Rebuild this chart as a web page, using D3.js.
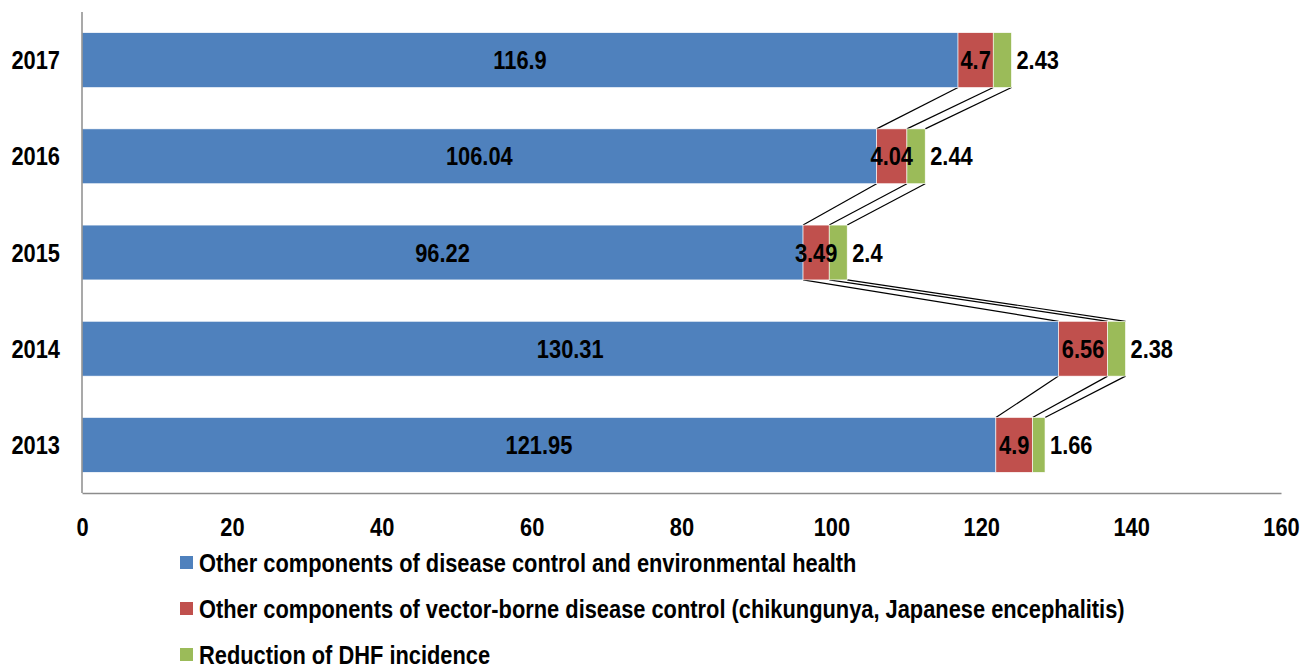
<!DOCTYPE html>
<html>
<head>
<meta charset="utf-8">
<script src="https://cdn.jsdelivr.net/npm/d3@7"></script>
<style>
  html, body { margin: 0; padding: 0; background: #fff; }
  svg text { font-family: "Liberation Sans Narrow", "Arial Narrow", "Liberation Sans", sans-serif; font-weight: bold; fill: #000; }
</style>
</head>
<body>
<svg id="chart" width="1302" height="666"></svg>
<script>
// Budget by year (stacked horizontally)
const years = ["2013", "2014", "2015", "2016", "2017"];
const otherDiseaseControl = [121.95, 130.31, 96.22, 106.04, 116.9];
const otherVectorBorne = [4.9, 6.56, 3.49, 4.04, 4.7];
const dhfReduction = [1.66, 2.38, 2.4, 2.44, 2.43];
const seriesNames = [
  "Other components of disease control and environmental health",
  "Other components of vector-borne disease control (chikungunya, Japanese encephalitis)",
  "Reduction of DHF incidence"
];
const seriesColors = ["#4F81BD", "#C0504D", "#9BBB59"];
const xTicks = [0, 20, 40, 60, 80, 100, 120, 140, 160];

const FONT = 26;     // label size
const SQUEEZE = 0.84; // horizontal condensing for a narrow face

const rows = years.map((y, i) => ({
  year: y,
  s0: otherDiseaseControl[i],
  s1: otherVectorBorne[i],
  s2: dhfReduction[i]
}));
const keys = ["s0", "s1", "s2"];
const stacked = d3.stack().keys(keys)(rows);

const svg = d3.select("#chart");
const plot = { left: 82, right: 1281, top: 12, bottom: 493 };

const x = d3.scaleLinear().domain([0, 160]).range([plot.left, plot.right]);
const y = d3.scaleBand()
  .domain(years.slice().reverse())
  .range([plot.top, plot.bottom])
  .paddingInner(0.43)
  .paddingOuter(0.215);

// condensed text placed at (px, py)
function label(parent, px, py, str, anchor) {
  return parent.append("text")
    .attr("transform", `translate(${px},${py}) scale(${SQUEEZE},1)`)
    .attr("dy", "0.35em")
    .attr("text-anchor", anchor)
    .attr("font-size", FONT)
    .text(str);
}

// Series lines joining the segment ends of neighbouring bars
const order = years.slice().reverse();
const connectors = svg.append("g");
stacked.forEach(layer => {
  for (let k = 0; k < order.length - 1; k++) {
    const upper = layer.find(d => d.data.year === order[k]);
    const lower = layer.find(d => d.data.year === order[k + 1]);
    connectors.append("line")
      .attr("x1", x(upper[1])).attr("y1", y(order[k]) + y.bandwidth())
      .attr("x2", x(lower[1])).attr("y2", y(order[k + 1]))
      .attr("stroke", "#000").attr("stroke-width", 1.2);
  }
});

// Bars
const layers = svg.append("g").selectAll("g").data(stacked).join("g")
  .attr("fill", (d, i) => seriesColors[i]);
layers.selectAll("rect").data(d => d).join("rect")
  .attr("x", d => x(d[0]))
  .attr("y", d => y(d.data.year))
  .attr("width", d => x(d[1]) - x(d[0]))
  .attr("height", y.bandwidth())
  .attr("stroke", "#fff").attr("stroke-width", 0.6);

// Axes (lines only; tick labels drawn condensed below)
const xAxis = d3.axisBottom(x).tickValues(xTicks).tickSize(0).tickFormat("");
const gx = svg.append("g").attr("transform", `translate(0,${plot.bottom})`).call(xAxis);
gx.select(".domain").attr("stroke", "#8c8c8c").attr("stroke-width", 1.5);
gx.selectAll(".tick").each(function (d) {
  label(d3.select(this), 0, 34, d3.format("d")(d), "middle");
});

const yAxis = d3.axisLeft(y).tickSize(0).tickFormat("");
const gy = svg.append("g").attr("transform", `translate(${plot.left},0)`).call(yAxis);
gy.select(".domain").attr("stroke", "#8c8c8c").attr("stroke-width", 1.5)
  .attr("d", `M0,${plot.top}V${plot.bottom}`);
gy.selectAll(".tick").each(function (d) {
  label(d3.select(this), -22, 0, d, "end");
});

// Value labels
const labels = svg.append("g");
const sources = [otherDiseaseControl, otherVectorBorne, dhfReduction];
stacked.forEach((layer, li) => {
  layer.forEach((d, i) => {
    const cx = li === 2 ? x(d[1]) + 5 : (x(d[0]) + x(d[1])) / 2;
    label(labels, cx, y(d.data.year) + y.bandwidth() / 2, String(sources[li][i]),
      li === 2 ? "start" : "middle");
  });
});

// Legend
const legend = svg.append("g");
seriesNames.forEach((name, i) => {
  const ly = 563 + i * 46;
  legend.append("rect")
    .attr("x", 180).attr("y", ly - 7).attr("width", 13).attr("height", 13)
    .attr("fill", seriesColors[i]);
  label(legend, 199, ly, name, "start");
});
</script>
</body>
</html>
